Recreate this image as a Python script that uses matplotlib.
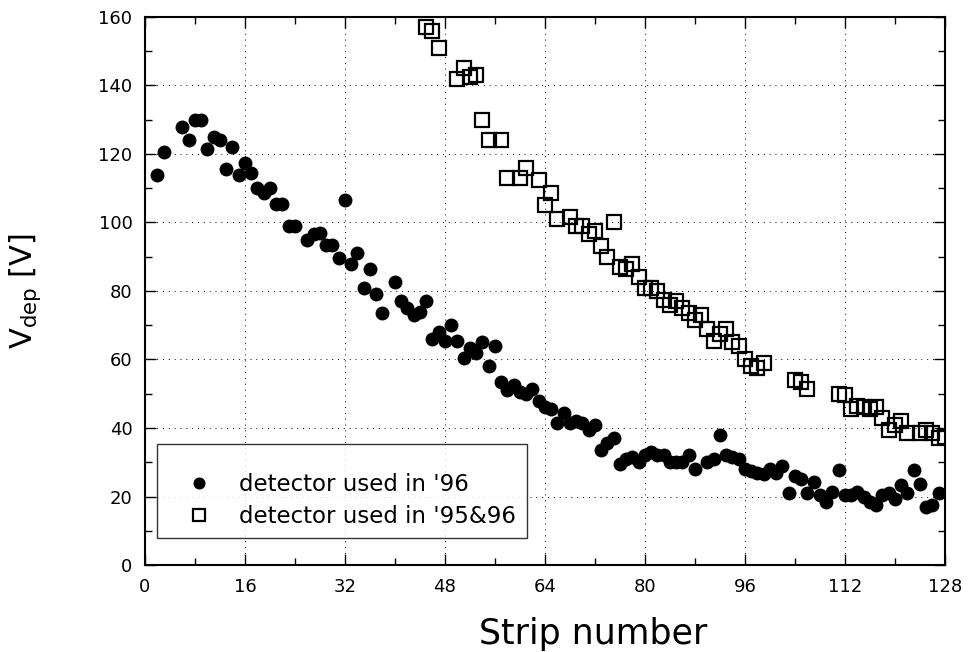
import numpy as np
import matplotlib
matplotlib.use("Agg")
import matplotlib.pyplot as plt
from matplotlib.ticker import MultipleLocator

# detector used in '96 (filled circles)
strip96 = [2, 3, 6, 7, 8, 9, 10, 11, 12, 13, 14, 15, 16, 17, 18, 19, 20, 21, 22, 23,
           24, 26, 27, 28, 29, 30, 31, 32, 33, 34, 35, 36, 37, 38, 40, 41, 42, 43, 44, 45,
           46, 47, 48, 49, 50, 51, 52, 53, 54, 55, 56, 57, 58, 59, 60, 61, 62, 63, 64, 65,
           66, 67, 68, 69, 70, 71, 72, 73, 74, 75, 76, 77, 78, 79, 80, 81, 82, 83, 84, 85,
           86, 87, 88, 90, 91, 92, 93, 94, 95, 96, 97, 98, 99, 100, 101, 102, 103, 104, 105, 106,
           107, 108, 109, 110, 111, 112, 113, 114, 115, 116, 117, 118, 119, 120, 121, 122, 123, 124, 125, 126,
           127]
vdep96 = [114, 120.5, 128, 124, 130, 130, 121.5, 125, 124, 115.5, 122, 114, 117.5, 114.5, 110, 108.5, 110, 105.5, 105.5, 99,
          99, 95, 96.5, 97, 93.5, 93.5, 89.5, 106.5, 88, 91, 81, 86.5, 79, 73.5, 82.5, 77, 75, 73, 74, 77,
          66, 68, 65.5, 70, 65.5, 60.5, 63.5, 62, 65, 58, 64, 53.5, 51, 52.5, 50.5, 50, 51.5, 48, 46, 45.5,
          41.5, 44.5, 41.5, 42, 41.5, 39.5, 41, 33.5, 35.5, 37, 29.5, 31, 31.5, 30, 32, 33, 32, 32, 30, 30,
          30, 32, 28, 30, 31, 38, 32, 31.5, 31, 28, 27.5, 27, 26.5, 28, 27, 29, 21, 26, 25, 21,
          24.3, 20.5, 18.5, 21.3, 27.7, 20.5, 20.5, 21.3, 20, 18.4, 17.5, 20.5, 21, 19.3, 23.4, 21, 27.7, 23.6, 17, 17.5,
          21]

# detector used in '95&96 (open squares)
strip9596 = [45, 46, 47, 50, 51, 52, 53, 54, 55, 57, 58, 60, 61, 63, 64, 65, 66, 68, 69, 70,
             71, 72, 73, 74, 75, 76, 77, 78, 79, 80, 81, 82, 83, 84, 85, 86, 87, 88, 89, 90,
             91, 92, 93, 94, 95, 96, 97, 98, 99, 104, 105, 106, 111, 112, 113, 114, 115, 116, 117, 118,
             119, 120, 121, 122, 124, 125, 126, 127, 128]
vdep9596 = [157, 156, 151, 142, 145, 142.5, 143, 130, 124, 124, 113, 113, 116, 112.5, 105, 108.5, 101, 101.5, 99, 99,
            96.5, 97.5, 93, 90, 100, 87, 86.5, 88, 84, 81, 81, 80, 77.5, 76, 77, 75, 73.5, 71.5, 73, 69,
            65.5, 67.5, 69, 65, 64, 60, 58, 57.5, 59, 54, 53.5, 51.5, 50, 49.5, 45.5, 46.5, 46, 45.5, 46, 43,
            39.5, 41, 42, 38.5, 38.5, 39.5, 38.5, 37, 37.5]

fig = plt.figure(figsize=(9.69, 6.52), dpi=100)
ax = fig.add_axes([0.1496, 0.1334, 0.8256, 0.8406])

ax.plot(strip96, vdep96, linestyle="none", marker="o", markersize=9,
        color="black", label="detector used in '96")
ax.plot(strip9596, vdep9596, linestyle="none", marker="s", markersize=9.5,
        markerfacecolor="none", markeredgecolor="black", markeredgewidth=1.6,
        label="detector used in '95&96")

ax.set_xlim(0, 128)
ax.set_ylim(0, 160)
ax.xaxis.set_major_locator(MultipleLocator(16))
ax.xaxis.set_minor_locator(MultipleLocator(8))
ax.yaxis.set_major_locator(MultipleLocator(20))
ax.yaxis.set_minor_locator(MultipleLocator(10))
ax.tick_params(which="both", direction="in", top=True, right=True, labelsize=13, width=1)
ax.tick_params(which="major", length=8, pad=9)
ax.tick_params(which="minor", length=5)
for sp in ax.spines.values():
    sp.set_linewidth(1.5)

ax.grid(True, which="major", color="black", linestyle=(0, (1, 5)), linewidth=0.7)

ax.set_xlabel("Strip number", fontsize=25, labelpad=12)
ax.xaxis.set_label_coords(0.56, -0.095)
ax.set_ylabel(r"V$_{\rm dep}$ [V]", fontsize=22, labelpad=40)

leg = ax.legend(loc="lower left", bbox_to_anchor=(0.015, 0.049), fontsize=16.5,
                frameon=True, fancybox=False, borderpad=0.45, handletextpad=0.35,
                handlelength=2.8, labelspacing=0.4, borderaxespad=0, markerscale=0.85,
                title=" ", title_fontsize=6)
leg.get_frame().set_edgecolor("black")
leg.get_frame().set_linewidth(1.0)

fig.savefig("out.png", dpi=100)
